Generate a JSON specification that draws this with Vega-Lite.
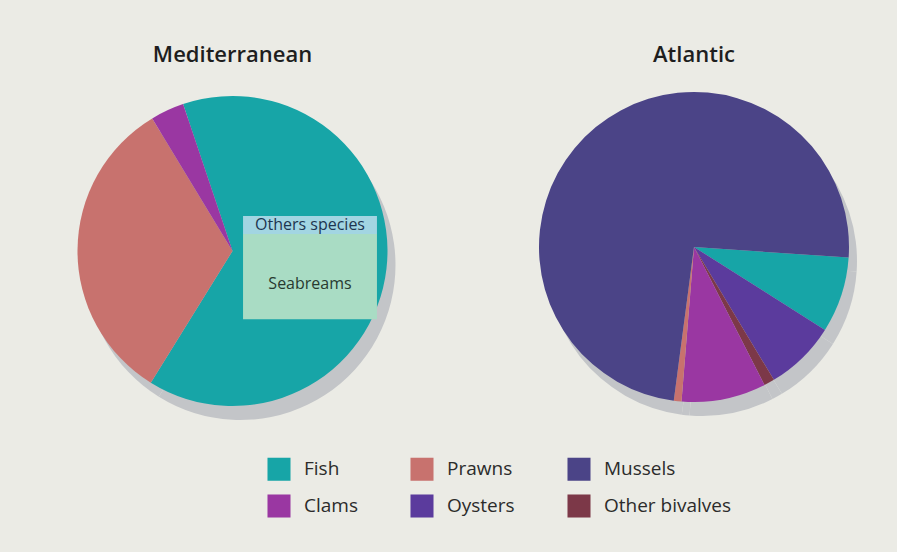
{
  "$schema": "https://vega.github.io/schema/vega-lite/v6.json",
  "background": "#ebebe5",
  "padding": {"left": 0, "right": 0, "top": 44, "bottom": 40},
  "autosize": {"type": "pad"},
  "spacing": 26,
  "config": {
    "view": {"stroke": null},
    "font": "Open Sans",
    "title": {"fontSize": 22, "fontWeight": 600, "color": "#1e1e1e", "offset": 4, "anchor": "middle"}
  },
  "datasets": {
    "med": [
      {"species": "Fish", "share": 64.0, "slice": 1},
      {"species": "Prawns", "share": 32.5, "slice": 2},
      {"species": "Clams", "share": 3.5, "slice": 3}
    ],
    "atl": [
      {"species": "Fish", "share": 7.9, "slice": 1},
      {"species": "Oysters", "share": 7.4, "slice": 2},
      {"species": "Other bivalves", "share": 1.1, "slice": 3},
      {"species": "Clams", "share": 8.8, "slice": 4},
      {"species": "Prawns", "share": 0.8, "slice": 5},
      {"species": "Mussels", "share": 74.0, "slice": 6}
    ]
  },
  "hconcat": [
    {
      "width": 465,
      "height": 360,
      "title": {"text": "Mediterranean"},
      "layer": [
        {
          "data": {"name": "med"},
          "mark": {"type": "arc", "radius": 155, "xOffset": 8, "yOffset": 14, "color": "#c3c5c8"},
          "encoding": {
            "theta": {"field": "share", "type": "quantitative", "stack": true, "scale": {"range": [-0.3246, 5.9586]}}
          }
        },
        {
          "data": {"name": "med"},
          "mark": {"type": "arc", "radius": 155},
          "encoding": {
            "theta": {"field": "share", "type": "quantitative", "stack": true},
            "order": {"field": "slice", "type": "quantitative"},
            "color": {
              "field": "species", "type": "nominal",
              "scale": {
                "domain": ["Fish", "Prawns", "Mussels", "Clams", "Oysters", "Other bivalves"],
                "range": ["#17a5a7", "#c8726e", "#4b4487", "#9a37a2", "#5b3b9d", "#7c3848"]
              },
              "legend": {
                "title": null, "orient": "none", "legendX": 267, "legendY": 386,
                "columns": 3, "direction": "horizontal", "symbolType": "square", "symbolSize": 530,
                "symbolStrokeWidth": 0, "symbolOpacity": 1, "labelFontSize": 19, "labelColor": "#2b2b2b",
                "labelOffset": 13, "columnPadding": 52, "rowPadding": 13, "padding": 0
              }
            }
          }
        },
        {
          "data": {"values": [{}]},
          "mark": {"type": "rect", "color": "#a9dcc4"},
          "encoding": {
            "x": {"datum": 0.068, "type": "quantitative", "scale": {"domain": [-1.5, 1.5], "nice": false, "zero": false}, "axis": null},
            "x2": {"datum": 0.932},
            "y": {"datum": 0.11, "type": "quantitative", "scale": {"domain": [-1.161, 1.161], "nice": false, "zero": false}, "axis": null},
            "y2": {"datum": -0.44}
          }
        },
        {
          "data": {"values": [{}]},
          "mark": {"type": "rect", "color": "#a2d5e2"},
          "encoding": {
            "x": {"datum": 0.068, "type": "quantitative"},
            "x2": {"datum": 0.932},
            "y": {"datum": 0.226, "type": "quantitative"},
            "y2": {"datum": 0.11}
          }
        },
        {
          "data": {"values": [{}]},
          "mark": {"type": "text", "text": "Others species", "fontSize": 16, "color": "#1d3550", "baseline": "middle", "align": "center"},
          "encoding": {
            "x": {"datum": 0.5, "type": "quantitative"},
            "y": {"datum": 0.168, "type": "quantitative"}
          }
        },
        {
          "data": {"values": [{}]},
          "mark": {"type": "text", "text": "Seabreams", "fontSize": 16, "color": "#283a30", "baseline": "middle", "align": "center"},
          "encoding": {
            "x": {"datum": 0.5, "type": "quantitative"},
            "y": {"datum": -0.213, "type": "quantitative"}
          }
        }
      ]
    },
    {
      "width": 406,
      "height": 360,
      "title": {"text": "Atlantic"},
      "layer": [
        {
          "data": {"name": "atl"},
          "mark": {"type": "arc", "radius": 155, "xOffset": 8, "yOffset": 10, "color": "#c3c5c8"},
          "encoding": {
            "theta": {"field": "share", "type": "quantitative", "stack": true, "scale": {"range": [1.6389, 7.9221]}}
          }
        },
        {
          "data": {"name": "atl"},
          "mark": {"type": "arc", "radius": 155, "yOffset": -4},
          "encoding": {
            "theta": {"field": "share", "type": "quantitative", "stack": true},
            "order": {"field": "slice", "type": "quantitative"},
            "color": {
              "field": "species", "type": "nominal",
              "legend": {
                "title": null, "orient": "none", "legendX": 267, "legendY": 386,
                "columns": 3, "direction": "horizontal", "symbolType": "square", "symbolSize": 530,
                "symbolStrokeWidth": 0, "symbolOpacity": 1, "labelFontSize": 19, "labelColor": "#2b2b2b",
                "labelOffset": 13, "columnPadding": 52, "rowPadding": 13, "padding": 0
              }
            }
          }
        }
      ]
    }
  ]
}
